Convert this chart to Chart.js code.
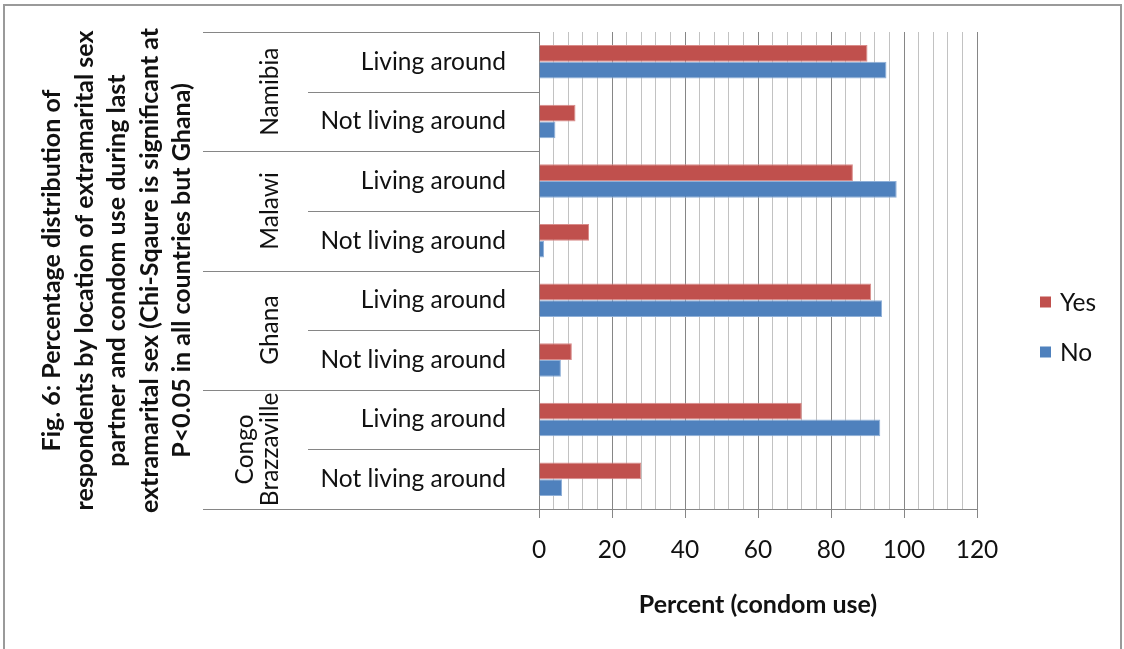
<!DOCTYPE html>
<html>
<head>
<meta charset="utf-8">
<script src="https://cdn.jsdelivr.net/npm/chart.js@4.4.1/dist/chart.umd.min.js"></script>
<style>
  html, body { margin: 0; padding: 0; background: #ffffff; }
  canvas { display: block; }
</style>
</head>
<body>
<canvas id="chart" width="1124" height="649"></canvas>
<script>
// Condom use at last extramarital sex, by whether the partner lives nearby
const countryLabels = ['Namibia', 'Malawi', 'Ghana', ['Congo', 'Brazzaville']];
const rowLabels = [
  'Living around', 'Not living around',
  'Living around', 'Not living around',
  'Living around', 'Not living around',
  'Living around', 'Not living around'
];
const seriesNames = ['Yes', 'No'];
const yesValues = [90, 10, 86, 13.7, 91, 9, 72, 28];
const noValues = [95.2, 4.5, 98, 1.4, 94, 6, 93.5, 6.3];
const xMin = 0;
const xMax = 120;
const xMinorStep = 4;
const xMajorStep = 20;
const titleLines = [
  'Fig. 6: Percentage distribution of',
  'respondents by location of extramarital sex',
  'partner and condom use during last',
  'extramarital sex (Chi-Sqaure is significant at',
  'P<0.05 in all countries but Ghana)'
];
const xTitle = 'Percent (condom use)';

const FONT = 'Lato, "Open Sans", sans-serif';
const LABEL_SIZE = 24.5;
const TITLE_SIZE = 25;
const AXIS_GRAY = '#868686';
const MINOR_GRAY = '#c2c2c2';
const TEXT = '#111111';

// Outer frame around the whole figure
const framePlugin = {
  id: 'frame',
  afterDraw(chart) {
    const ctx = chart.ctx;
    ctx.save();
    ctx.strokeStyle = '#9a9a9a';
    ctx.lineWidth = 2;
    ctx.strokeRect(4, 5, chart.width - 7, chart.height + 10);
    ctx.restore();
  }
};

// Two-level category axis: separator lines and rotated country names
const groupAxisPlugin = {
  id: 'groupAxis',
  afterDraw(chart) {
    const ctx = chart.ctx;
    const y = chart.scales.y;
    const axisX = y.right;
    ctx.save();
    ctx.strokeStyle = AXIS_GRAY;
    ctx.lineWidth = 1;
    for (let i = 0; i <= rowLabels.length; i++) {
      const py = Math.round(y.getPixelForValue(i - 0.5)) + 0.5;
      const reach = (i % 2 === 0) ? 336 : 231;
      ctx.beginPath();
      ctx.moveTo(axisX - reach, py);
      ctx.lineTo(axisX, py);
      ctx.stroke();
    }
    ctx.fillStyle = TEXT;
    ctx.font = LABEL_SIZE + 'px ' + FONT;
    ctx.textAlign = 'center';
    ctx.textBaseline = 'middle';
    countryLabels.forEach((label, k) => {
      const lines = Array.isArray(label) ? label : [label];
      const cy = y.getPixelForValue(2 * k + 0.5);
      lines.forEach((line, j) => {
        const cx = axisX - 269 - (lines.length - 1 - j) * 25;
        ctx.save();
        ctx.translate(cx, cy);
        ctx.rotate(-Math.PI / 2);
        ctx.fillText(line, 0, 0);
        ctx.restore();
      });
    });
    ctx.restore();
  }
};

// Legend on the right, built from the datasets
const sideLegendPlugin = {
  id: 'sideLegend',
  afterDraw(chart) {
    const ctx = chart.ctx;
    ctx.save();
    ctx.font = LABEL_SIZE + 'px ' + FONT;
    ctx.textAlign = 'left';
    ctx.textBaseline = 'middle';
    chart.data.datasets.forEach((ds, i) => {
      const cy = 302 + i * 50;
      ctx.fillStyle = ds.backgroundColor;
      ctx.fillRect(1040, cy - 5.5, 11, 11);
      ctx.fillStyle = TEXT;
      ctx.fillText(ds.label, 1060, cy + 1);
    });
    ctx.restore();
  }
};

new Chart(document.getElementById('chart'), {
  type: 'bar',
  data: {
    labels: rowLabels,
    datasets: [
      {
        label: seriesNames[0],
        data: yesValues,
        backgroundColor: '#c0504d',
        borderColor: '#d98c8a',
        borderWidth: 1,
        categoryPercentage: 0.56,
        barPercentage: 1.0
      },
      {
        label: seriesNames[1],
        data: noValues,
        backgroundColor: '#4f81bd',
        borderColor: '#8fb0d8',
        borderWidth: 1,
        categoryPercentage: 0.56,
        barPercentage: 1.0
      }
    ]
  },
  options: {
    indexAxis: 'y',
    responsive: false,
    animation: false,
    events: [],
    layout: { padding: { left: 0, right: 147, top: 32, bottom: 0 } },
    plugins: {
      legend: { display: false },
      tooltip: { enabled: false }
    },
    scales: {
      x: {
        type: 'linear',
        position: 'bottom',
        min: xMin,
        max: xMax,
        afterFit(scale) { scale.height = 140; },
        ticks: {
          stepSize: xMinorStep,
          autoSkip: false,
          maxRotation: 0,
          padding: 17,
          color: TEXT,
          font: { family: FONT, size: LABEL_SIZE },
          callback: (v) => (v % xMajorStep === 0 ? String(v) : '')
        },
        grid: {
          display: true,
          drawOnChartArea: true,
          drawTicks: true,
          tickLength: 9,
          lineWidth: 1,
          color: (c) => (c.tick && c.tick.value % xMajorStep === 0 ? AXIS_GRAY : MINOR_GRAY),
          tickColor: (c) => (c.tick && c.tick.value % xMajorStep === 0 ? AXIS_GRAY : 'rgba(0,0,0,0)')
        },
        border: { display: true, color: AXIS_GRAY, width: 1 },
        title: {
          display: true,
          text: xTitle,
          color: TEXT,
          font: { family: FONT, size: TITLE_SIZE, weight: 'bold' },
          padding: { top: 0, bottom: 29 }
        }
      },
      y: {
        type: 'category',
        position: 'left',
        offset: true,
        afterFit(scale) { scale.width = 539; },
        ticks: {
          padding: 0,
          color: TEXT,
          font: { family: FONT, size: LABEL_SIZE },
          autoSkip: false
        },
        grid: {
          display: true,
          drawOnChartArea: false,
          drawTicks: true,
          tickLength: 33,
          tickColor: 'rgba(0,0,0,0)',
          color: 'rgba(0,0,0,0)'
        },
        border: { display: true, color: AXIS_GRAY, width: 1 },
        title: {
          display: true,
          text: titleLines,
          color: TEXT,
          font: { family: FONT, size: TITLE_SIZE, weight: 'bold', lineHeight: 1.3 },
          padding: { top: 36, bottom: 0 }
        }
      }
    }
  },
  plugins: [framePlugin, groupAxisPlugin, sideLegendPlugin]
});
</script>
</body>
</html>
